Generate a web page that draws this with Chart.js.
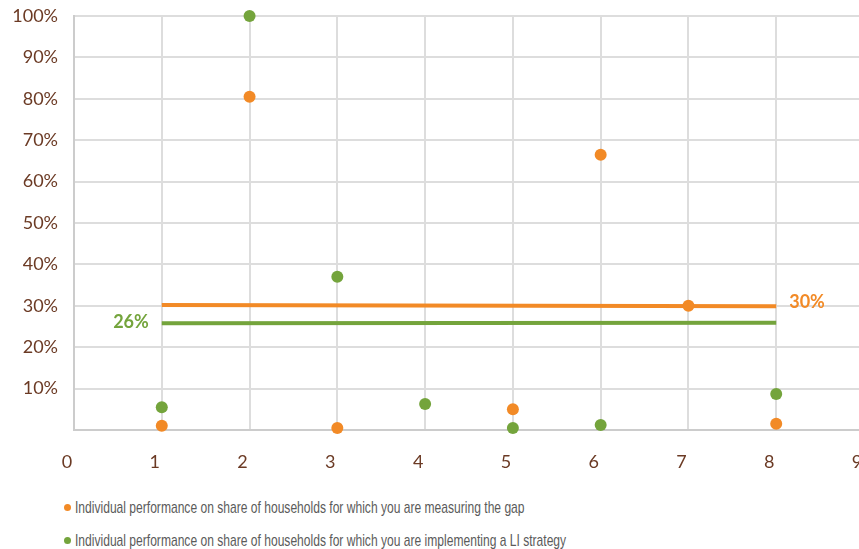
<!DOCTYPE html>
<html>
<head>
<meta charset="utf-8">
<script src="https://cdn.jsdelivr.net/npm/chart.js@4/dist/chart.umd.min.js"></script>
<style>
  html, body { margin: 0; padding: 0; background: #ffffff; overflow: hidden; width: 859px; height: 549px; }
  #wrap { position: relative; width: 859px; height: 549px; overflow: hidden; }
  canvas { position: absolute; left: 0; top: 0; }
  .leg { position: absolute; left: 64px; font-family: "Liberation Sans Narrow", "Liberation Sans", sans-serif; font-size: 17px; color: #5b5b5b; white-space: nowrap; line-height: 20px; }
  .leg .dot { display: inline-block; width: 7px; height: 7px; border-radius: 50%; margin-right: 4px; vertical-align: 2px; }
  .leg .txt { display: inline-block; transform-origin: 0 50%; }
</style>
</head>
<body>
<div id="wrap">
  <canvas id="c" width="880" height="475"></canvas>
  <div id="legend"></div>
</div>
<script>
// ---- data ----
const xValues = [1, 2, 3, 4, 5, 6, 7, 8];
const measuringGap = [1, 80.5, 0.5, null, 5, 66.5, 30, 1.5];
const implementingLI = [5.5, 100, 37, 6.3, 0.5, 1.2, null, 8.7];
const measuringAvgLine = [30.2, 29.9];
const implementingAvgLine = [25.8, 25.9];
const avgLineX = [1, 8];
const measuringAvgLabel = "30%";
const implementingAvgLabel = "26%";
const seriesNames = [
  "Individual performance on share of households for which you are measuring the gap",
  "Individual performance on share of households for which you are implementing a LI strategy"
];
const yTicks = [0, 10, 20, 30, 40, 50, 60, 70, 80, 90, 100];
const xTicks = [0, 1, 2, 3, 4, 5, 6, 7, 8, 9];

const ORANGE = "#f28a26";
const GREEN = "#74a43c";
const TICK = "#6b3a24";

const toPts = (xs, ys) => xs.map((x, i) => ({ x: x, y: ys[i] })).filter(p => p.y !== null);

const labelPlugin = {
  id: "avgLabels",
  afterDatasetsDraw(chart) {
    const ctx = chart.ctx;
    const xs = chart.scales.x, ys = chart.scales.y;
    ctx.save();
    ctx.font = "bold 18px Lato, 'Open Sans', sans-serif";
    ctx.textBaseline = "middle";
    ctx.fillStyle = GREEN;
    ctx.textAlign = "right";
    ctx.fillText(implementingAvgLabel, xs.getPixelForValue(avgLineX[0]) - 13, ys.getPixelForValue(implementingAvgLine[0]) - 1);
    ctx.fillStyle = ORANGE;
    ctx.textAlign = "left";
    ctx.fillText(measuringAvgLabel, xs.getPixelForValue(avgLineX[1]) + 13, ys.getPixelForValue(measuringAvgLine[1]) - 4);
    ctx.restore();
  }
};

new Chart(document.getElementById("c"), {
  type: "scatter",
  data: {
    datasets: [
      { label: seriesNames[0], data: toPts(xValues, measuringGap), backgroundColor: ORANGE, pointRadius: 6, pointBorderWidth: 0, order: 0, clip: false },
      { label: seriesNames[1], data: toPts(xValues, implementingLI), backgroundColor: GREEN, pointRadius: 6, pointBorderWidth: 0, order: 0, clip: false },
      { type: "line", label: "avg1", data: toPts(avgLineX, measuringAvgLine), borderColor: ORANGE, borderWidth: 4, pointRadius: 0, order: 2 },
      { type: "line", label: "avg2", data: toPts(avgLineX, implementingAvgLine), borderColor: GREEN, borderWidth: 4, pointRadius: 0, order: 2 }
    ]
  },
  options: {
    responsive: false,
    animation: false,
    layout: { autoPadding: false, padding: { top: 16, right: 16, left: 0, bottom: 0 } },
    plugins: { legend: { display: false }, tooltip: { enabled: false } },
    scales: {
      x: {
        type: "linear", min: 0, max: 9,
        afterBuildTicks: s => { s.ticks = xTicks.map(v => ({ value: v })); },
        afterFit: s => { s.height = 45; s.paddingLeft = 0; s.paddingRight = 0; },
        grid: { color: "#dddddd", lineWidth: 2, drawTicks: false },
        border: { color: "#cccccc", width: 2 },
        ticks: { color: TICK, font: { family: "Lato", size: 18 }, padding: 21, labelOffset: -7 }
      },
      y: {
        min: 0, max: 100,
        afterBuildTicks: s => { s.ticks = yTicks.map(v => ({ value: v })); },
        afterFit: s => { s.width = 74; s.paddingTop = 0; s.paddingBottom = 0; },
        grid: { color: "#dddddd", lineWidth: 2, drawTicks: false },
        border: { color: "#cccccc", width: 2 },
        ticks: { color: TICK, font: { family: "Lato", size: 18 }, padding: 16, callback: v => v === 0 ? "" : v + "%" }
      }
    }
  },
  plugins: [labelPlugin]
});

const colors = [ORANGE, GREEN];
const legendTops = [498, 531];
const legend = document.getElementById("legend");
seriesNames.forEach((n, i) => {
  const d = document.createElement("div");
  d.className = "leg";
  d.style.top = legendTops[i] + "px";
  d.innerHTML = '<span class="dot" style="background:' + colors[i] + '"></span>';
  const t = document.createElement("span");
  t.className = "txt";
  t.textContent = n;
  t.style.transform = "scaleX(0.71)";
  d.appendChild(t);
  legend.appendChild(d);
});
</script>
</body>
</html>
